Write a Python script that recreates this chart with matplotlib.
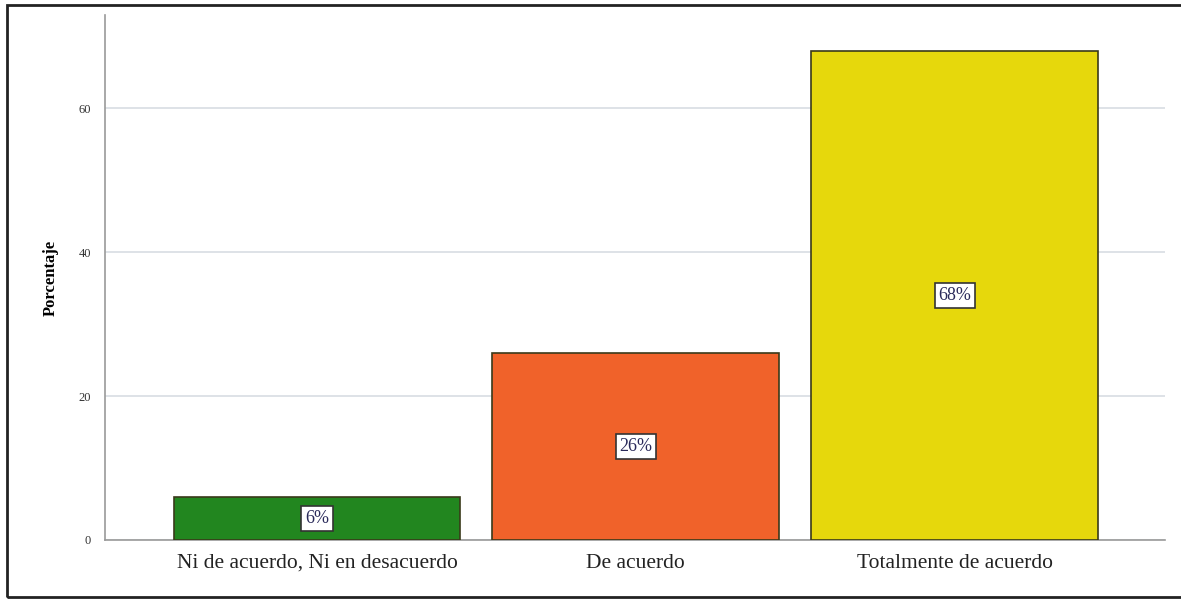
import numpy as np
import matplotlib.pyplot as plt
from matplotlib.patches import Rectangle

categories = ["Ni de acuerdo, Ni en desacuerdo", "De acuerdo", "Totalmente de acuerdo"]
values = [6, 26, 68]
labels = ["6%", "26%", "68%"]
colors = ["#22861f", "#f0622a", "#e6d80c"]
yticks = [0, 20, 40, 60]

plt.rcParams['font.family'] = ['Liberation Serif', 'DejaVu Serif']

fig = plt.figure(figsize=(11.81, 6.02), dpi=100)
ax = fig.add_axes([105/1181, 62/602, 1060/1181, 525/602])

x = np.arange(len(categories))
bars = ax.bar(x, values, width=0.9, color=colors, edgecolor="#3a3a1a", linewidth=1.2, zorder=3)

for b, lab in zip(bars, labels):
    ax.text(b.get_x() + b.get_width()/2, b.get_height()/2, lab,
            ha="center", va="center", fontsize=13, color="#2a2a5a", zorder=4,
            bbox=dict(boxstyle="square,pad=0.2", facecolor="white", edgecolor="#333333", linewidth=1.2))

ax.set_xlim(-0.665, 2.66)
ax.set_ylim(0, 73)
ax.set_yticks(yticks)
ax.set_yticklabels([str(t) for t in yticks], fontsize=9, color="#333333")
ax.set_xticks(x)
ax.set_xticklabels(categories, fontsize=15.5, color="#222222")
ax.tick_params(axis="x", length=0, pad=10)
ax.tick_params(axis="y", length=0, pad=10)
ax.set_ylabel("Porcentaje", fontsize=12, fontweight="bold", labelpad=14)
ax.grid(axis="y", color="#d8dde3", linewidth=1.2, zorder=0)
for s in ["top", "right"]:
    ax.spines[s].set_visible(False)
ax.spines["left"].set_color("#9a9a9a")
ax.spines["bottom"].set_color("#9a9a9a")
ax.spines["left"].set_linewidth(1.2)
ax.spines["bottom"].set_linewidth(1.2)

fig.patches.append(Rectangle((7/1181, 5/602), 1.0, 592/602, transform=fig.transFigure,
                             fill=False, edgecolor="#222222", linewidth=2))

fig.savefig("out.png", dpi=100)
